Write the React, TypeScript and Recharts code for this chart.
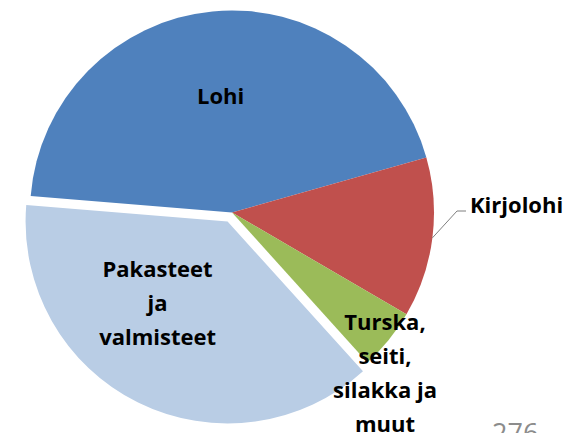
import { PieChart, Pie, Cell } from 'recharts'

// osuudet (%) luettu kuvasta
const CATEGORIES = ['Lohi', 'Kirjolohi', 'Turska,\nseiti,\nsilakka ja\nmuut', 'Pakasteet\nja\nvalmisteet']
const VALUES = [44.3, 12.8, 4.9, 38.0]
const COLORS = ['#4F81BD', '#C0504D', '#9BBB59', '#B9CDE5']
const EXPLODED = 3
const PAGE_NO = '276'

const data = CATEGORIES.map((name, i) => ({ name, value: VALUES[i] }))

const W = 578
const H = 433
const CX = 232
const CY = 212.5
const R = 202
const START = 175.3
const EXPLODE = 10
const FONT = '"Open Sans", "Noto Sans", sans-serif'
const LINE_H = 34

// erotetun sektorin keskikulma -> siirto
const total = VALUES.reduce((a, v) => a + v, 0)
const before = VALUES.slice(0, EXPLODED).reduce((a, v) => a + v, 0)
const midA = ((START - ((before + VALUES[EXPLODED] / 2) / total) * 360) * Math.PI) / 180
const ex = CX + EXPLODE * Math.cos(midA)
const ey = CY - EXPLODE * Math.sin(midA)

const RAD = Math.PI / 180

interface LabelProps {
  cx: number
  cy: number
  midAngle: number
  outerRadius: number
  index: number
  name: string
}

function Lines({ x, y, lines, anchor = 'middle' }: { x: number; y: number; lines: string[]; anchor?: 'middle' | 'start' }) {
  return (
    <text x={x} y={y} textAnchor={anchor} fill="#000" fontFamily={FONT} fontWeight={700} fontSize={22}>
      {lines.map((l, i) => (
        <tspan key={i} x={x} dy={i === 0 ? 0 : LINE_H}>{l}</tspan>
      ))}
    </text>
  )
}

function renderLabel(which: 'main' | 'exploded') {
  return (p: LabelProps) => {
    const { cx, cy, midAngle, outerRadius, index, name } = p
    const lines = name.split('\n')
    if (which === 'main' && index === EXPLODED) return null
    if (which === 'exploded' && index !== EXPLODED) return null
    if (index === 0) {
      const r = outerRadius * 0.58
      const x = cx + r * Math.cos(-midAngle * RAD)
      const y = cy + r * Math.sin(-midAngle * RAD)
      return <Lines x={x} y={y + 8} lines={lines} />
    }
    if (index === 1) {
      const sx = cx + outerRadius * Math.cos(-midAngle * RAD)
      const sy = cy + outerRadius * Math.sin(-midAngle * RAD)
      return (
        <g>
          <polyline points={`${sx},${sy} ${cx + 225},${cy - 1.5} ${cx + 234},${cy - 1.5}`} fill="none" stroke="#7f7f7f" strokeWidth={1} />
          <Lines x={cx + 238} y={cy} lines={lines} anchor="start" />
        </g>
      )
    }
    if (index === 2) return <Lines x={cx + 153} y={cy + 117.5} lines={lines} />
    return <Lines x={cx - 70} y={cy + 56} lines={lines} />
  }
}

export default function App() {
  return (
    <div style={{ position: 'absolute', left: 0, top: 0, width: W, height: H, overflow: 'hidden', background: '#fff' }}>
      <PieChart width={W} height={H} margin={{ top: 0, right: 0, bottom: 0, left: 0 }}>
        <Pie data={data} dataKey="value" nameKey="name" cx={CX} cy={CY} outerRadius={R}
          startAngle={START} endAngle={START - 360} stroke="none" labelLine={false}
          label={renderLabel('main')} isAnimationActive={false}>
          {data.map((d, i) => (
            <Cell key={d.name} fill={i === EXPLODED ? 'transparent' : COLORS[i]} />
          ))}
        </Pie>
        <Pie data={data} dataKey="value" nameKey="name" cx={ex} cy={ey} outerRadius={R}
          startAngle={START} endAngle={START - 360} stroke="none" labelLine={false}
          label={renderLabel('exploded')} isAnimationActive={false}>
          {data.map((d, i) => (
            <Cell key={d.name} fill={i === EXPLODED ? COLORS[i] : 'transparent'} />
          ))}
        </Pie>
      </PieChart>
      <div style={{ position: 'absolute', left: 492, top: 416, fontFamily: FONT, fontSize: 27, color: '#8c8c8c', lineHeight: '34px' }}>
        {PAGE_NO}
      </div>
    </div>
  )
}
